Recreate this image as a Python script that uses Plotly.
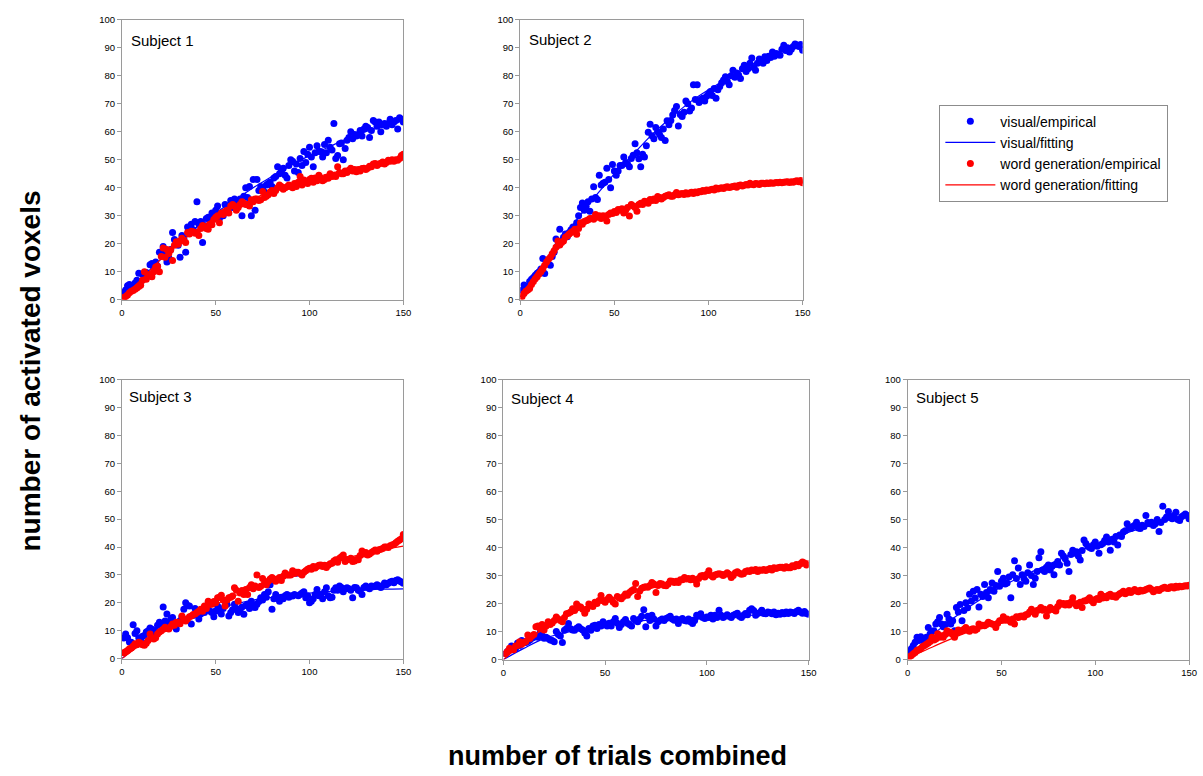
import plotly.graph_objects as go

trials = list(range(1, 151))
fit_x = [0, 10, 20, 30, 40, 50, 60, 70, 80, 90, 100, 110, 120, 130, 140, 150]

subjects = ["Subject 1", "Subject 2", "Subject 3", "Subject 4", "Subject 5"]
x_ticks = [0, 50, 100, 150]
y_ticks = [0, 10, 20, 30, 40, 50, 60, 70, 80, 90, 100]

# ---------------- Subject 1 ----------------
s1_visual = [
    2.6, 3.5, 5, 5.5, 5, 4.5, 6, 7, 9.5, 6.5,
    9, 7.5, 9.7, 9, 12.5, 13, 11, 13.5, 12, 17,
    16.5, 19, 17.5, 13.5, 15, 18, 24, 21.5, 20, 19.5,
    15.2, 23, 22, 17, 26, 24.5, 27, 25, 28, 35,
    27, 28, 20.5, 26.5, 29, 29.5, 28.5, 31, 30.5, 32,
    33.5, 29, 31, 30, 34, 31.5, 33, 35.5, 33, 36,
    35, 34.5, 36, 30, 37, 40, 36.5, 40.5, 30, 43,
    32, 43, 39, 40.5, 40, 38.5, 41, 41.5, 42, 40.5,
    43.5, 44, 47.5, 45, 45.8, 47, 44.5, 43.5, 48, 50,
    49.5, 46, 48.5, 45.5, 50.5, 48, 53, 49, 52, 54.5,
    51, 47.5, 52.5, 55, 53, 53, 51, 55.5, 52.5, 57,
    54.5, 53.5, 63, 50.5, 51.5, 55.7, 56, 50, 54, 57,
    58, 60, 57.5, 59, 58.5, 59, 60.5, 58.5, 61, 62,
    61.5, 58, 60.5, 64, 63.5, 62, 63.5, 60, 62.5, 63,
    62, 63, 64.5, 62.5, 63.5, 64, 61, 65, 64.5, 63.5,
]
s1_word = [
    0.8, 1.2, 1.7, 2.5, 3, 3.3, 3.8, 4.2, 4.7, 5.2,
    7, 10, 7.3, 8.5, 9, 8.2, 10, 11.7, 12, 10,
    15.5, 18.5, 15.2, 18, 16.5, 17.8, 14, 19.5, 20.7, 19.8,
    21, 22, 21.2, 20.5, 24, 23.5, 24.5, 24.3, 23.8, 24,
    23, 25.5, 26.5, 26, 25.5, 25.2, 27, 26.8, 28.7, 29.5,
    30, 27.5, 31, 30.5, 31.5, 32, 31, 33.5, 34, 33.5,
    32, 33, 34, 35, 34.5, 34, 34, 33.5, 35.7, 35,
    36, 36, 35.5, 35.7, 38.7, 36.5, 37, 37.5, 38.5, 39,
    38, 39, 40, 41, 40.5, 39.5, 40, 40.4, 41, 40.5,
    40, 41.5, 40.5, 42, 44, 41, 42.8, 42, 41.5, 43,
    43.4, 42, 43.5, 42.5, 44.5, 43.5, 42.5, 43, 43.8, 43.4,
    45, 44, 44.5, 44, 47.5, 45.5, 45, 45, 46, 45.5,
    46.3, 47, 46, 46.5, 45.7, 46.5, 46, 46.9, 47, 46.5,
    47, 47.7, 47.5, 48.5, 48.7, 48, 48.5, 48.8, 49.2, 48.5,
    49, 49.8, 49.5, 50, 49.5, 50, 49.8, 50.5, 51.5, 52,
]
s1_visual_fit = [2, 7.5, 14, 20, 26, 31, 35.5, 40, 44, 48, 51.5, 54.5, 57.5, 60, 62, 64]
s1_word_fit = [1, 7, 14, 20, 25, 29.5, 33, 36, 39, 41, 43, 45, 46.5, 47.5, 49, 50]

# ---------------- Subject 2 ----------------
s2_visual = [
    3.4, 5.3, 4.5, 4.3, 6.5, 7.3, 8, 8.8, 9.5, 10,
    11, 14.7, 9.4, 13, 12.8, 12.3, 15.5, 17, 21.7, 19.5,
    25.2, 21, 22.3, 23.5, 22.5, 24, 25, 26, 24.5, 27.5,
    30, 33, 34.6, 32, 33.4, 35, 31.6, 36, 40.4, 36.5,
    35.8, 44.5, 41, 41.6, 42, 47, 43, 40, 48.3, 46,
    44.5, 46, 48, 48, 51, 49, 48.5, 47.5, 50.5, 51.6,
    55.7, 52.5, 50.4, 47.5, 52, 51, 55, 59.8, 62.7, 58.6,
    57.5, 61.5, 60, 59, 58, 61, 56.9, 63.9, 62.5, 64,
    66, 67.6, 69, 62.1, 66.2, 65.5, 67, 71, 70, 67.4,
    68.5, 76.8, 71.5, 76.8, 70.5, 71.5, 72, 71, 72.7, 73.5,
    74.4, 73, 75.5, 72, 75, 76.2, 77.5, 78.5, 79.7, 78,
    76.8, 80, 82, 79.5, 81, 80.3, 79, 82.5, 83.8, 81.5,
    82.5, 84.5, 86.4, 83, 82, 84.5, 86, 85.6, 84.5, 86.8,
    85.5, 87, 86.5, 88.5, 87, 88, 87.5, 87.3, 89.5, 90.9,
    89, 90, 88.5, 89.5, 90.5, 91.4, 91, 90.5, 91.2, 89.1,
]
s2_word = [
    1.2, 2.2, 3, 3.5, 4, 5.5, 6.5, 7.5, 8.2, 9.2,
    10, 11, 12.3, 13.5, 14.5, 15.2, 16.4, 17.5, 18.8, 21,
    19.6, 20.5, 21, 22.3, 22.8, 23.5, 24, 24.5, 25.2, 23.4,
    25.5, 27.5, 27, 28, 28.2, 28.5, 29, 29, 28.8, 30.5,
    29.5, 30, 29, 30, 29.5, 28.1, 30.5, 31, 30.8, 31.5,
    31.2, 32.2, 32, 32.5, 31, 32, 33, 29.9, 34, 33.5,
    33, 31.6, 34, 34.5, 34, 35.2, 35, 34.5, 35.8, 35.5,
    36, 35.5, 36.9, 36.5, 36, 36.5, 37, 37.2, 37.5, 37,
    37, 37.5, 38.3, 37.5, 37.8, 38, 37.6, 38.2, 37.8, 38.1,
    38.4, 38, 38.5, 38.2, 38.7, 38.6, 39, 38.8, 39.2, 39,
    39.3, 39.5, 39.2, 39.9, 39.6, 39.8, 40, 39.7, 40.2, 40.4,
    40.1, 40.3, 40.5, 40.6, 40.2, 40.8, 41, 40.6, 40.9, 41.2,
    41, 41.6, 41.3, 41.1, 41.5, 41.4, 41.2, 41.6, 41.6, 41.4,
    41.7, 41.5, 41.8, 41.6, 41.7, 41.9, 41.8, 42, 41.8, 42,
    42.1, 42.2, 41.9, 42.2, 42, 42.3, 42.5, 42.2, 42.6, 41.8,
]
s2_visual_fit = [1, 10, 19.5, 28.5, 37, 45, 52, 59, 65, 70.5, 75, 79, 83, 86.5, 89.5, 91.5]
s2_word_fit = [1, 11, 19.5, 25.5, 29.5, 32, 34, 35.8, 37, 38.2, 39, 40, 40.7, 41.2, 41.6, 42]

# ---------------- Subject 3 ----------------
s3_visual = [
    7.4, 8.8, 7.5, 6, 5.9, 12.1, 9, 10, 7.5, 7,
    8, 8.3, 9.5, 10, 11, 10.5, 9.5, 10, 12, 13,
    12.5, 18.5, 13.5, 16, 13, 14, 14.7, 13, 10.6, 12.5,
    13.6, 15, 17.7, 20, 19, 18.9, 12.4, 15.5, 18, 16.5,
    14.2, 16, 17.5, 16.5, 18.9, 19, 17, 16.5, 15, 17,
    18.9, 17.5, 16, 18, 19, 19.5, 15.3, 16.5, 17.5, 19.5,
    18, 16.5, 17, 18.5, 15.9, 19, 19.5, 18, 20.6, 18.5,
    18.3, 19.5, 20.5, 21.8, 21, 23, 22, 24, 26.5, 17.7,
    21.5, 23, 22, 20.6, 22, 21.5, 22.5, 23, 22, 22.5,
    22.4, 23, 30.6, 22.5, 23, 23.5, 24, 21.8, 22.5, 20,
    20.6, 21.5, 23, 24.8, 22.5, 23, 21.5, 24, 25.4, 22.5,
    21.8, 22, 24.5, 25.4, 24.5, 26, 25.5, 24, 25, 25.4,
    25, 24.5, 21.8, 25.5, 25.4, 24.5, 24.2, 23, 25.5, 26,
    25.5, 25, 26, 25.8, 26, 26.5, 26, 25.5, 26.2, 27.1,
    26.5, 27, 27.5, 27.7, 27.2, 28, 28.3, 27.8, 27.5, 27,
]
s3_word = [
    2.1, 2.5, 2.9, 3.5, 3.8, 4.5, 5.3, 5, 5.9, 5.5,
    5, 4.8, 5.5, 6.5, 8.8, 7.5, 7, 7.5, 8.8, 9.5,
    10, 10.5, 11.2, 10.8, 10.6, 11.5, 12.4, 12, 13, 13,
    12.5, 15.3, 14, 13.5, 14.2, 15, 15.3, 15.8, 16, 16.5,
    17, 17.7, 17, 18.9, 18, 20.6, 19.5, 19.5, 20.5, 20,
    21.8, 22, 22.7, 21, 18.9, 21, 21.8, 22, 22.4, 25.4,
    24.5, 20.6, 23.5, 24.4, 23, 24.8, 23, 25.5, 26.5, 25,
    26, 30, 25.5, 25.9, 28.7, 27, 26.5, 27.7, 28.5, 29.1,
    28.5, 27.7, 28.5, 29.1, 28, 29.5, 30.7, 30, 30, 30,
    31.5, 30.5, 31, 31, 30.5, 30, 31, 31.5, 32, 32.4,
    32, 33, 32.5, 33, 33.5, 33.6, 33, 33.5, 32.7, 33.5,
    34, 34.2, 35, 35.4, 34.5, 36, 36.5, 37.1, 34.8, 35.5,
    35.5, 36, 34.8, 35, 35.5, 35.4, 37, 38.6, 37.5, 38,
    37.1, 37.5, 38, 38.5, 38.9, 38.5, 39, 39.2, 39.5, 40,
    40, 39.8, 40.5, 40.7, 41, 41.5, 42.1, 42.5, 43, 44.5,
]
s3_visual_fit = [0, 5.5, 10, 13.5, 16, 18, 19.5, 21, 22, 23, 23.5, 24, 24.4, 24.7, 24.9, 25]
s3_word_fit = [0, 5, 9.5, 13, 16.5, 19.5, 22.5, 25, 27.5, 30, 32, 34, 36, 37.8, 39.2, 40.3]

# ---------------- Subject 4 ----------------
s4_visual = [
    2.1, 2.9, 3.5, 4.9, 3.8, 4.1, 5.9, 5, 6.8, 6.5,
    6.1, 6.5, 7, 7.6, 8, 8.4, 8, 9.4, 8.6, 7.6,
    8, 7.5, 7, 6.8, 6.4, 10, 9, 8.4, 6.1, 10.5,
    11.1, 12.9, 11, 10.6, 10.5, 11.2, 11.7, 11, 10.6, 9.5,
    8.4, 11.1, 10.5, 12, 12.3, 11.1, 12.5, 12, 13.5, 12.7,
    12, 13, 12, 13.5, 14.7, 13, 11.5, 12.5, 13.5, 14.3,
    13, 12.5, 12, 14.7, 14, 13.5, 14.5, 15.5, 17.8, 11.7,
    15.5, 14, 15.8, 14.5, 12, 13.5, 14.1, 14.5, 14, 14.7,
    15, 15.5, 14.5, 14.1, 14.5, 12.9, 14.2, 14.7, 14, 13.8,
    14.5, 13.5, 12.9, 14, 15.8, 15.5, 16.4, 15, 14.7, 15.2,
    15, 15.8, 14.5, 15.8, 15, 17.6, 15.8, 15, 15.5, 16,
    15.5, 15, 15.8, 16.2, 16.6, 15.5, 15, 15.8, 16.5, 16,
    17.6, 18.2, 17.5, 15.8, 16.5, 16.8, 17.6, 16.5, 16.4, 17,
    16.8, 16.4, 17, 16, 16.6, 16.2, 16.8, 16.4, 17, 16.5,
    17, 16.8, 16.5, 17.2, 17.6, 17, 16.6, 17.2, 16.5, 16.2,
]
s4_word = [
    2.1, 2.9, 4.1, 3.5, 3.5, 4.9, 5, 6.4, 5.5, 6.1,
    6.5, 8.8, 7.5, 8.4, 9, 11.7, 12, 11, 12.5, 10.6,
    12, 13.5, 12.5, 13.1, 14, 15.2, 14.5, 14, 13.5, 15,
    16.4, 16.6, 17, 18.2, 17.5, 19.9, 19, 18.8, 18, 16.6,
    18, 19.9, 19.5, 19, 20.5, 20, 21.1, 22.9, 21, 20.5,
    21.5, 22.3, 21.5, 20.5, 19.9, 22.5, 22, 21.7, 22.5, 23.4,
    23, 24, 24.6, 25, 27.2, 22.5, 24.5, 25.5, 25.8, 26,
    25.8, 26.5, 27.5, 27, 24, 26.5, 27.2, 27, 26.5, 26.4,
    27, 28.1, 28, 27.5, 28, 27.5, 28.5, 28.5, 29.3, 28.8,
    29, 28.5, 29.1, 28.5, 27, 29, 29.9, 30, 29.5, 30.5,
    31.7, 30, 29.5, 30.2, 30.5, 30.7, 30.5, 30, 30.5, 31,
    30.5, 29.3, 30, 31, 31.4, 30.8, 30.5, 30.7, 31.5, 31.7,
    31.5, 32, 31.8, 32.2, 31.5, 32, 31.9, 32.2, 31.8, 32.2,
    32.5, 32, 32.8, 32.5, 32.8, 33, 33, 32.6, 33.2, 32.8,
    32.8, 33.5, 33.2, 34, 33.5, 34.2, 34.9, 34.5, 33.8, 34.2,
]
s4_visual_fit = [0, 4, 7.5, 9.5, 11, 12.3, 13.2, 14, 14.5, 15, 15.3, 15.6, 15.8, 16, 16.1, 16.2]
s4_word_fit = [0, 6, 11, 15, 18.5, 21, 23, 25, 26.7, 28, 29.3, 30.5, 31.5, 32.3, 33, 33.7]

# ---------------- Subject 5 ----------------
s5_visual = [
    2.7, 3.9, 5, 6.2, 8, 6.8, 8.2, 7, 6.8, 8,
    11.5, 9.2, 10, 10.3, 12.7, 13.5, 15, 12.7, 11.7, 12.5,
    16.2, 14.5, 12.7, 13.9, 10.3, 18.6, 17, 19.7, 13.9, 17.5,
    20.3, 18.5, 23.3, 20.9, 24.4, 22, 25, 18.8, 23.3, 22.5,
    26.8, 24, 22.1, 25, 27.4, 24.4, 26.5, 31.5, 26.2, 28,
    29.1, 27, 27.4, 29.5, 22.1, 30.3, 35.3, 29, 32.7, 26.8,
    30.3, 29, 28, 31, 33.8, 30, 26.8, 29.1, 31.5, 36.4,
    38.5, 32, 31.5, 33, 33.8, 32, 33.3, 30.3, 34, 35,
    33.8, 38, 37, 36, 34.4, 31.5, 37.5, 39.1, 38, 38.5,
    37, 35.6, 39, 42.7, 41.5, 40.5, 40, 39.7, 41, 42,
    40.5, 38, 41, 41.5, 42.5, 43.8, 42, 39.1, 43, 42,
    44, 40.9, 44.5, 44, 45.6, 46, 48.5, 47, 46.8, 47.5,
    48, 49.1, 47, 46.8, 48, 47.5, 51.5, 49, 48.5, 49.1,
    47.9, 48.5, 50, 45.8, 49, 54.8, 50, 50.9, 52.9, 51,
    50.3, 51.5, 52.6, 50, 49.7, 51, 51.5, 52, 51.5, 50.3,
]
s5_word = [
    1, 1.5, 2.1, 2.5, 3.3, 3.5, 4, 4.7, 5, 5.5,
    5.9, 6.5, 8, 7, 7.4, 9.2, 8, 8.5, 8, 9,
    10.3, 9.5, 9.8, 9, 8, 9.5, 10.6, 10, 10.3, 10.8,
    11.5, 10.5, 10.1, 10.8, 11, 10.5, 10.9, 12.7, 12, 12.3,
    12.1, 12.5, 13.3, 13, 12.7, 12.5, 11.5, 13, 13.9, 14,
    15.3, 14.1, 14.5, 14, 13.3, 14.5, 12.7, 15.3, 15, 15.5,
    15.6, 15.2, 16, 16.2, 17, 18, 17, 16.2, 17.5, 17.8,
    18.6, 17.6, 18, 15.6, 17.5, 18.6, 18, 17.8, 17.4, 19,
    20.3, 19.8, 20, 19.5, 20, 19.5, 20.5, 22.1, 20, 19.2,
    20, 20.5, 18.6, 20.9, 21, 21.5, 22.1, 21, 20.3, 21.5,
    21.8, 21.5, 23.3, 22, 22.5, 22.1, 23, 23.3, 22.5, 22.8,
    22.3, 23, 23.5, 23.9, 24.4, 23.5, 24, 24.7, 24, 24.5,
    25, 24.5, 24.2, 24.8, 24.5, 24.7, 25, 25.3, 25.6, 25,
    24.2, 24.8, 25, 24.7, 25.2, 25.6, 25.8, 25.5, 25.4, 25.9,
    26, 25.6, 26.2, 25.8, 26.2, 26, 26.2, 26.4, 26.3, 26.6,
]
s5_visual_fit = [1, 7, 12.5, 17.5, 22, 26, 29.5, 32.5, 35.5, 38.5, 41, 43.5, 46, 48, 50, 51.5]
s5_word_fit = [0.5, 3.5, 6.5, 9.3, 11.8, 14, 16, 17.8, 19.3, 20.6, 21.8, 22.9, 23.8, 24.6, 25.4, 26]

visual_series = [s1_visual, s2_visual, s3_visual, s4_visual, s5_visual]
word_series = [s1_word, s2_word, s3_word, s4_word, s5_word]
visual_fits = [s1_visual_fit, s2_visual_fit, s3_visual_fit, s4_visual_fit, s5_visual_fit]
word_fits = [s1_word_fit, s2_word_fit, s3_word_fit, s4_word_fit, s5_word_fit]

# ---------------- layout (pixels) ----------------
W, H = 1203, 776
boxes = [  # left, right, top, bottom in px
    (120, 404, 14, 298),
    (522, 807, 14, 298),
    (120, 404, 379, 662),
    (505, 813, 379, 663),
    (913, 1197, 379, 663),
]
label_pos = [(127, 35), (529, 34), (125, 396), (511, 398), (919, 397)]


def px(v):
    return v / W


def py(v):
    return 1 - v / H


BLUE = "#0000FF"
RED = "#FF0000"
GRID = "#9a9a9a"
FONT = "Liberation Sans, Arial, sans-serif"

fig = go.Figure()
layout = dict(
    width=W, height=H,
    margin=dict(l=0, r=0, t=0, b=0),
    paper_bgcolor="white", plot_bgcolor="white",
    showlegend=True,
    font=dict(family=FONT, color="#000000"),
)
annotations = []

for i in range(5):
    n = "" if i == 0 else str(i + 1)
    xa, ya = "x" + n, "y" + n
    l, r, t, b = boxes[i]
    layout["xaxis" + n] = dict(
        domain=[px(l), px(r)], anchor=ya, range=[0, 150],
        tickmode="array", tickvals=x_ticks, ticks="outside", ticklen=4,
        tickcolor=GRID, showline=True, linecolor=GRID, linewidth=1, mirror=True,
        showgrid=False, zeroline=False, tickfont=dict(size=9.5, color="#000000"),
    )
    layout["yaxis" + n] = dict(
        domain=[py(b), py(t)], anchor=xa, range=[0, 100],
        tickmode="array", tickvals=y_ticks, ticks="outside", ticklen=4,
        tickcolor=GRID, showline=True, linecolor=GRID, linewidth=1, mirror=True,
        showgrid=False, zeroline=False, tickfont=dict(size=9.5, color="#000000"),
    )
    show = i == 0
    fig.add_trace(go.Scatter(
        x=trials, y=visual_series[i], mode="markers", xaxis=xa, yaxis=ya,
        marker=dict(color=BLUE, size=7, line=dict(width=0)),
        name="visual/empirical", legendgroup="ve", showlegend=show,
    ))
    fig.add_trace(go.Scatter(
        x=fit_x, y=visual_fits[i], mode="lines", xaxis=xa, yaxis=ya,
        line=dict(color=BLUE, width=1.2, shape="spline"),
        name="visual/fitting", legendgroup="vf", showlegend=show,
    ))
    fig.add_trace(go.Scatter(
        x=trials, y=word_series[i], mode="markers", xaxis=xa, yaxis=ya,
        marker=dict(color=RED, size=7, line=dict(width=0)),
        name="word generation/empirical", legendgroup="we", showlegend=show,
    ))
    fig.add_trace(go.Scatter(
        x=fit_x, y=word_fits[i], mode="lines", xaxis=xa, yaxis=ya,
        line=dict(color=RED, width=1.2, shape="spline"),
        name="word generation/fitting", legendgroup="wf", showlegend=show,
    ))
    lx, ly = label_pos[i]
    annotations.append(dict(
        text=subjects[i], xref="paper", yref="paper", x=px(lx), y=py(ly),
        xanchor="left", yanchor="middle", showarrow=False,
        font=dict(size=15, family=FONT, color="#000000"),
    ))

annotations.append(dict(
    text="<b>number of activated voxels</b>", xref="paper", yref="paper",
    x=px(28), y=py(370), textangle=-90, showarrow=False,
    xanchor="center", yanchor="middle", font=dict(size=28, family=FONT, color="#000000"),
))
annotations.append(dict(
    text="<b>number of trials combined</b>", xref="paper", yref="paper",
    x=px(620), y=py(761), showarrow=False,
    xanchor="center", yanchor="middle", font=dict(size=27, family=FONT, color="#000000"),
))
layout["annotations"] = annotations
layout["legend"] = dict(
    x=px(945), y=py(100), xanchor="left", yanchor="top",
    bordercolor="#8c8c8c", borderwidth=1, bgcolor="white",
    font=dict(size=14, family=FONT, color="#000000"),
    traceorder="normal", itemwidth=50, tracegroupgap=0,
)
fig.update_layout(**layout)
fig.write_html(
    "out.html",
    config={"displayModeBar": False},
    post_script="document.body.style.margin='0';document.documentElement.style.overflow='hidden';document.body.style.overflow='hidden';",
)
